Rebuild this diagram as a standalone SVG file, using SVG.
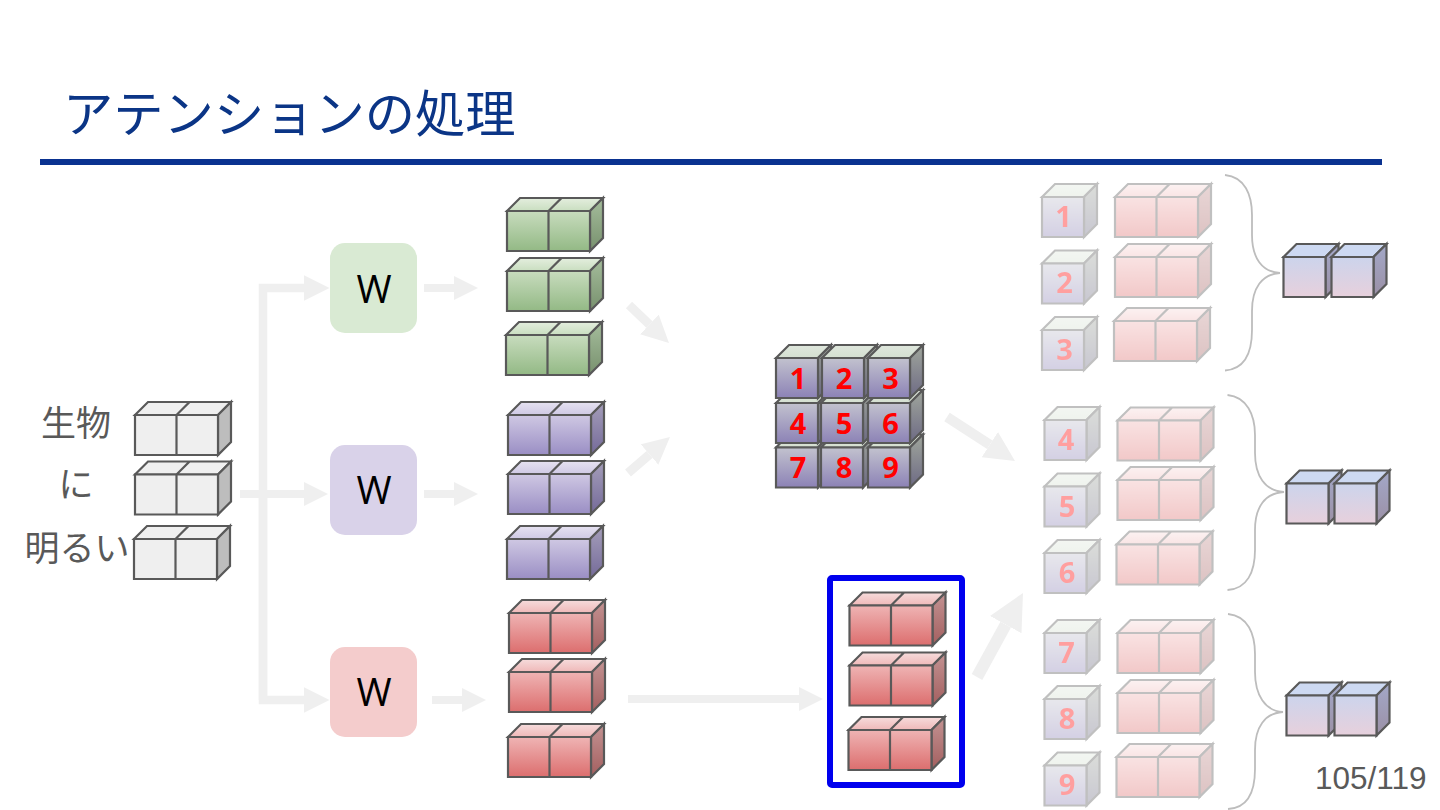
<svg xmlns="http://www.w3.org/2000/svg" xmlns:xlink="http://www.w3.org/1999/xlink" width="1440" height="810" viewBox="0 0 1440 810">
<style>
.e{stroke:#595959;stroke-width:2.2;stroke-linejoin:miter}
.a{fill:none;stroke:#efefef;marker-end:url(#h)}
.b{fill:none;stroke:#bdbdbd;stroke-width:1.8}
.l{font-family:"Noto Sans CJK JP","Noto Sans",sans-serif;font-size:35px;fill:#595959;text-anchor:middle}
.w{font-family:"Open Sans","Noto Sans",sans-serif;font-size:38px;fill:#000;text-anchor:middle}
.n{font-family:"Open Sans","Noto Sans",sans-serif;font-size:29px;font-weight:700;fill:#f00;text-anchor:middle}
.f{opacity:.38}
</style>
<defs>
<marker id="h" viewBox="0 0 3 3" refX="0" refY="1.5" markerWidth="3" markerHeight="3" orient="auto" markerUnits="strokeWidth"><path d="M0 0L3 1.5L0 3Z" fill="#efefef"/></marker>
<linearGradient id="gf" x1="0" y1="0" x2="0" y2="1"><stop offset="0" stop-color="#c8dcbe"/><stop offset="1" stop-color="#93b985"/></linearGradient>
<linearGradient id="gt" x1="0" y1="0" x2="0" y2="1"><stop offset="0" stop-color="#e4eede"/><stop offset="1" stop-color="#c9dec0"/></linearGradient>
<linearGradient id="gs" x1="0" y1="0" x2="0" y2="1"><stop offset="0" stop-color="#a5bd9c"/><stop offset="1" stop-color="#78916e"/></linearGradient>
<linearGradient id="pf" x1="0" y1="0" x2="0" y2="1"><stop offset="0" stop-color="#cfc8e3"/><stop offset="1" stop-color="#9a8ec4"/></linearGradient>
<linearGradient id="pt" x1="0" y1="0" x2="0" y2="1"><stop offset="0" stop-color="#e6e2f1"/><stop offset="1" stop-color="#cfc9e4"/></linearGradient>
<linearGradient id="ps" x1="0" y1="0" x2="0" y2="1"><stop offset="0" stop-color="#a59eba"/><stop offset="1" stop-color="#746a99"/></linearGradient>
<linearGradient id="rf" x1="0" y1="0" x2="0" y2="1"><stop offset="0" stop-color="#efb4b4"/><stop offset="1" stop-color="#dc6e6e"/></linearGradient>
<linearGradient id="rt" x1="0" y1="0" x2="0" y2="1"><stop offset="0" stop-color="#f6dcdc"/><stop offset="1" stop-color="#efb8b8"/></linearGradient>
<linearGradient id="rs" x1="0" y1="0" x2="0" y2="1"><stop offset="0" stop-color="#c39393"/><stop offset="1" stop-color="#a45f5f"/></linearGradient>
<linearGradient id="mf" x1="0" y1="0" x2="0" y2="1"><stop offset="0" stop-color="#c2c2ce"/><stop offset="1" stop-color="#8c82b6"/></linearGradient>
<linearGradient id="mt" x1="0" y1="0" x2="0" y2="1"><stop offset="0" stop-color="#dfe7dd"/><stop offset="1" stop-color="#d4dfd0"/></linearGradient>
<linearGradient id="ms" x1="0" y1="0" x2="0" y2="1"><stop offset="0" stop-color="#a0a69c"/><stop offset="1" stop-color="#6d6a84"/></linearGradient>
<linearGradient id="bf" x1="0" y1="0" x2="0" y2="1"><stop offset="0" stop-color="#ccd4ec"/><stop offset="1" stop-color="#e7d0dc"/></linearGradient>
<linearGradient id="bs" x1="0" y1="0" x2="0" y2="1"><stop offset="0" stop-color="#a3a8c8"/><stop offset="1" stop-color="#9b90a6"/></linearGradient>
<g id="gray" class="e"><path fill="#efefef" d="M0 0L13-13H54.500L41.500 0ZM41.500 0L54.500-13H96L83 0Z"/><path fill="#bdbdbd" d="M83 0L96-13V27L83 40Z"/><path fill="#efefef" d="M0 0H41.500V40H0ZM41.500 0H83V40H41.500Z"/></g>
<g id="green" class="e"><path fill="url(#gt)" d="M0 0L13-13H54.500L41.500 0ZM41.500 0L54.500-13H96L83 0Z"/><path fill="url(#gs)" d="M83 0L96-13V27L83 40Z"/><path fill="url(#gf)" d="M0 0H41.500V40H0ZM41.500 0H83V40H41.500Z"/></g>
<g id="purple" class="e"><path fill="url(#pt)" d="M0 0L13-13H54.500L41.500 0ZM41.500 0L54.500-13H96L83 0Z"/><path fill="url(#ps)" d="M83 0L96-13V27L83 40Z"/><path fill="url(#pf)" d="M0 0H41.500V40H0ZM41.500 0H83V40H41.500Z"/></g>
<g id="red" class="e"><path fill="url(#rt)" d="M0 0L13-13H54.500L41.500 0ZM41.500 0L54.500-13H96L83 0Z"/><path fill="url(#rs)" d="M83 0L96-13V27L83 40Z"/><path fill="url(#rf)" d="M0 0H41.500V40H0ZM41.500 0H83V40H41.500Z"/></g>
<g id="mix" class="e"><path fill="url(#mt)" d="M0 0L13-13H55L42 0Z"/><path fill="url(#ms)" d="M42 0L55-13V27L42 40Z"/><path fill="url(#mf)" d="M0 0H42V40H0Z"/></g>
<g id="blue1" class="e"><path fill="#cdd9f2" d="M0 0L13-13H55L42 0Z"/><path fill="url(#bs)" d="M42 0L55-13V27L42 40Z"/><path fill="url(#bf)" d="M0 0H42V40H0Z"/></g>
<g id="blue2"><use href="#blue1"/><use href="#blue1" x="48"/></g>
</defs>
<rect width="1440" height="810" fill="#fff"/>
<g id="title">
<text x="63" y="132" font-family="'Noto Sans CJK JP','Noto Sans',sans-serif" font-size="50.300" fill="#0b3586">アテンションの処理</text>
<rect x="40" y="159" width="1342" height="6" fill="#0a3290"/>
</g>
<g id="connectors">
<path class="a" stroke-width="8.500" d="M263 700V288H304"/>
<path class="a" stroke-width="8.500" d="M263 494V700H304"/>
<path class="a" stroke-width="8" d="M240 494H304"/>
<path class="a" stroke-width="8" d="M424 288H454"/>
<path class="a" stroke-width="8" d="M424 494H454"/>
<path class="a" stroke-width="8" d="M432 700H462"/>
<path class="a" stroke-width="9" d="M629 305L649.400 324.400"/>
<path class="a" stroke-width="9" d="M628 473L649.500 454.500"/>
<path class="a" stroke-width="8" d="M628 699H799"/>
<path class="a" stroke-width="10" d="M947 417L989.800 444.700"/>
<path class="a" stroke-width="12" d="M977 677L1005.700 624.600"/>
<path class="b" d="M1225 175C1245 177 1252 195 1252 215V235C1252 258 1262 272 1280 273C1262 274 1252 288 1252 311V330C1252 352 1245 369 1225 370.500"/>
<path class="b" d="M1227.500 395C1247 397 1255 415 1255 435V453C1255 476 1265 491 1284 492C1265 493 1255 507 1255 530V550C1255 572 1247 589 1227.500 590"/>
<path class="b" d="M1228 614C1248 616 1255 634 1255 654V672C1255 695 1265 711 1283 712C1265 713 1255 727 1255 750V769C1255 791 1248 808 1228 809"/>
</g>
<g id="input">
<text class="l" x="76" y="436">生物</text>
<text class="l" x="76" y="497">に</text>
<text class="l" x="77" y="561">明るい</text>
<use href="#gray" x="135" y="415"/>
<use href="#gray" x="135" y="474.500"/>
<use href="#gray" x="134" y="539"/>
</g>
<g id="w-green"><rect x="330" y="243" width="87" height="90" rx="15" fill="#d9ead3"/><text class="w" x="374" y="303">W</text></g>
<g id="w-purple"><rect x="330" y="445" width="87" height="90" rx="15" fill="#d9d2e9"/><text class="w" x="374" y="504">W</text></g>
<g id="w-red"><rect x="330" y="647" width="87" height="90" rx="15" fill="#f4cccc"/><text class="w" x="374" y="706">W</text></g>
<g id="green-vectors"><use href="#green" x="507" y="211"/><use href="#green" x="507" y="271"/><use href="#green" x="506" y="335"/></g>
<g id="purple-vectors"><use href="#purple" x="508" y="415"/><use href="#purple" x="508" y="474"/><use href="#purple" x="507" y="539"/></g>
<g id="red-vectors"><use href="#red" x="509" y="613"/><use href="#red" x="509" y="672"/><use href="#red" x="508" y="737"/></g>
<g id="grid">
<use href="#mix" x="776" y="447.500"/><use href="#mix" x="821" y="447.500"/><use href="#mix" x="868" y="447.500"/>
<use href="#mix" x="776" y="403"/><use href="#mix" x="821" y="403"/><use href="#mix" x="868" y="403"/>
<use href="#mix" x="776" y="358"/><use href="#mix" x="822" y="358"/><use href="#mix" x="868" y="358"/>
<text class="n" x="798" y="389">1</text><text class="n" x="844" y="389">2</text><text class="n" x="890.500" y="389">3</text>
<text class="n" x="798" y="434">4</text><text class="n" x="844" y="434">5</text><text class="n" x="890.500" y="434">6</text>
<text class="n" x="798" y="478">7</text><text class="n" x="844" y="478">8</text><text class="n" x="890.500" y="478">9</text>
</g>
<g id="selected">
<rect x="830" y="578" width="132" height="207" rx="2" fill="#fff" stroke="#0000ee" stroke-width="6"/>
<use href="#red" x="849.500" y="605.500"/><use href="#red" x="849.500" y="665.500"/><use href="#red" x="848.500" y="730"/>
</g>
<g id="faded" class="f">
<use href="#mix" x="1042" y="197"/><use href="#mix" x="1042" y="263.500"/><use href="#mix" x="1042" y="330"/>
<use href="#mix" x="1044.500" y="420"/><use href="#mix" x="1044.500" y="486.500"/><use href="#mix" x="1044.500" y="553"/>
<use href="#mix" x="1044.500" y="633"/><use href="#mix" x="1044.500" y="699"/><use href="#mix" x="1044.500" y="765.500"/>
<use href="#red" x="1115" y="197"/><use href="#red" x="1115" y="257"/><use href="#red" x="1114" y="321"/>
<use href="#red" x="1117.500" y="420.500"/><use href="#red" x="1117.500" y="480"/><use href="#red" x="1116.500" y="544.500"/>
<use href="#red" x="1117.500" y="633"/><use href="#red" x="1117.500" y="693"/><use href="#red" x="1116.500" y="757"/>
<text class="n" x="1063.500" y="227">1</text><text class="n" x="1064.500" y="293">2</text><text class="n" x="1064.500" y="360">3</text>
<text class="n" x="1066" y="450">4</text><text class="n" x="1067" y="517">5</text><text class="n" x="1067" y="583">6</text>
<text class="n" x="1066.500" y="663">7</text><text class="n" x="1067" y="729">8</text><text class="n" x="1067" y="795">9</text>
</g>
<g id="result-1"><use href="#blue2" x="1283.500" y="257"/></g>
<g id="result-2"><use href="#blue2" x="1286.500" y="483.500"/></g>
<g id="result-3"><use href="#blue2" x="1286.500" y="695.500"/></g>
<text id="page" x="1315" y="789" font-family="'Liberation Sans',Arial,sans-serif" font-size="31.500" fill="#595959">105/119</text>
</svg>
